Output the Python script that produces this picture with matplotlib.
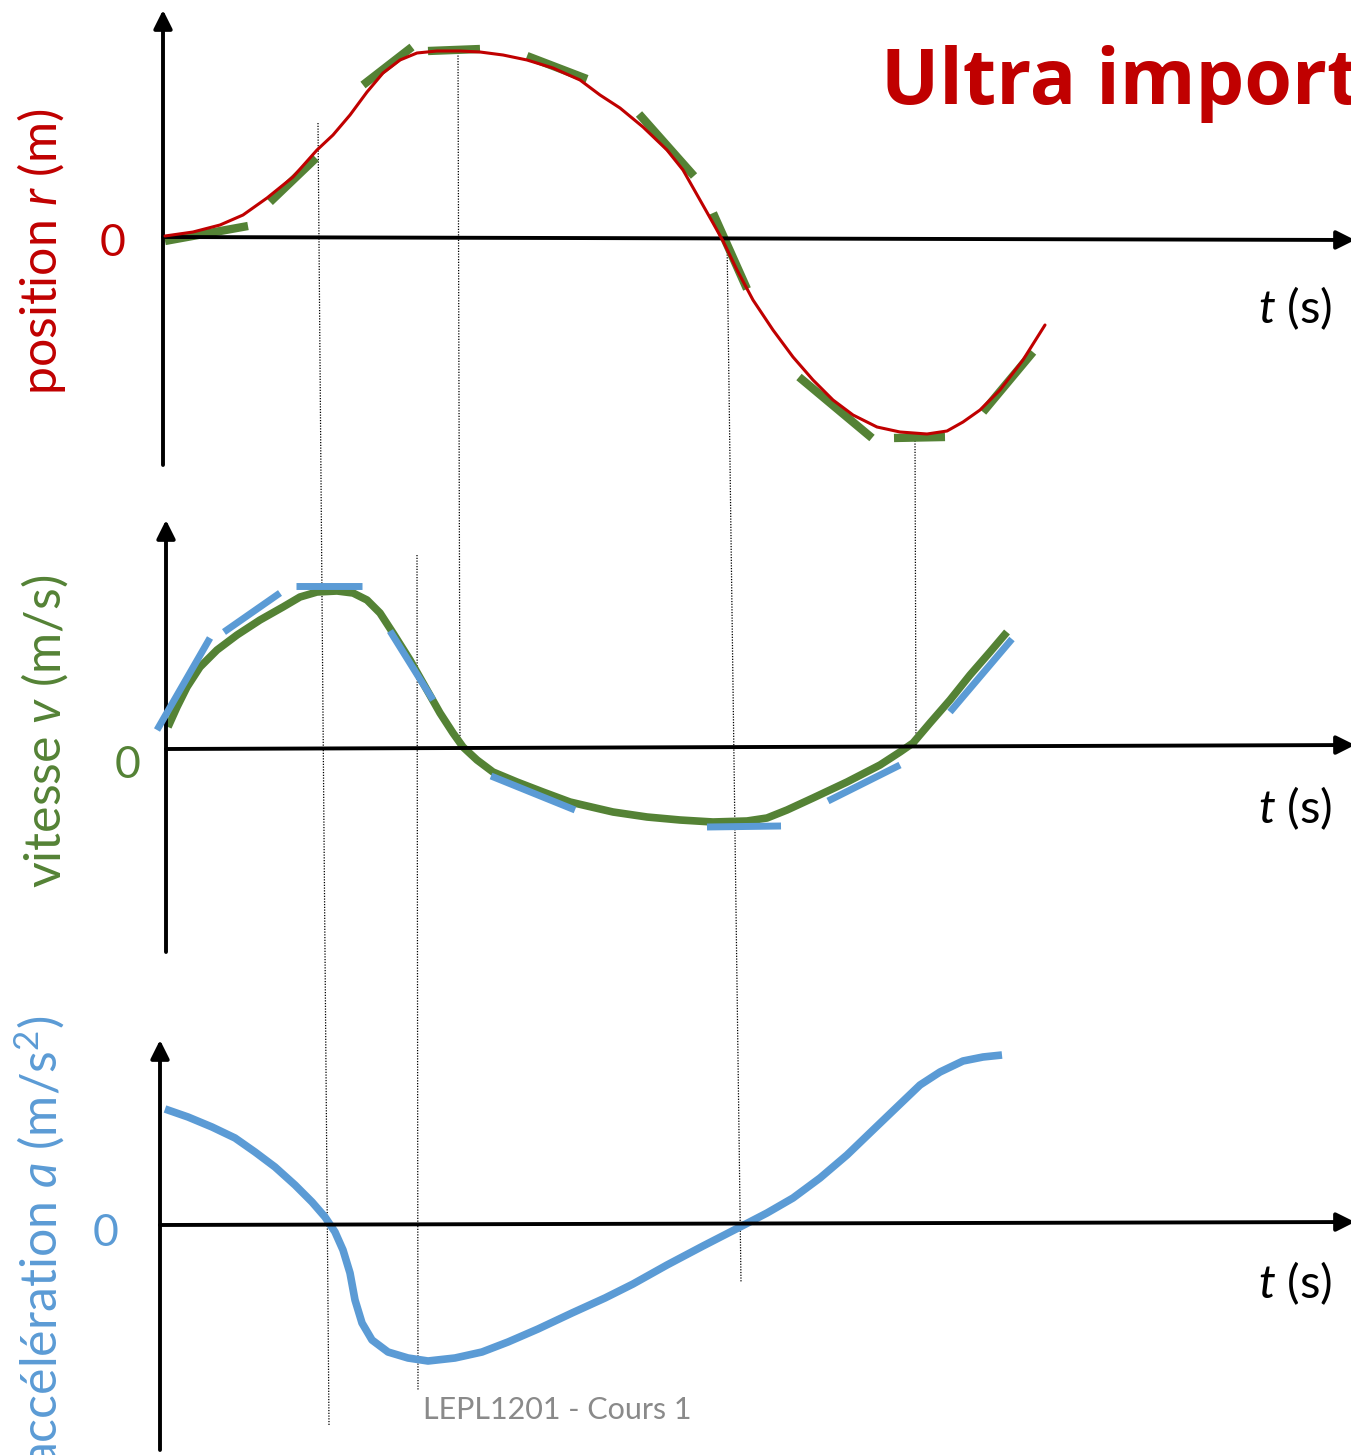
import matplotlib
matplotlib.use("Agg")
import matplotlib.pyplot as plt

W, H = 1351, 1455
plt.rcParams['mathtext.fontset'] = 'custom'
plt.rcParams['mathtext.rm'] = 'Lato'
plt.rcParams['mathtext.it'] = 'Lato:italic'
plt.rcParams['font.family'] = ['Lato', 'DejaVu Sans']

RED = '#c00000'
GREEN = '#548235'
BLUE = '#5b9bd5'

# ---------------- data ----------------
# position r(t)
pos_t = [2, 30, 57, 80, 104, 130, 154, 170, 187, 204, 220, 237, 254, 274, 297,
         317, 340, 364, 390, 417, 437, 457, 480, 504, 520, 537, 550, 560, 574,
         590, 610, 630, 650, 670, 690, 714, 737, 764, 784, 800, 817, 837, 860, 882]
pos_r = [1, 5, 12, 22, 39, 60, 87, 102, 122, 145, 164, 177, 184, 186, 186,
         185, 182, 177, 169, 157, 142, 129, 110, 87, 67, 37, 14, -4, -33,
         -63, -93, -120, -143, -163, -178, -190, -195, -197, -194, -185, -173,
         -153, -123, -88]
# tangents on r(t)  (t0, r0, t1, r1)
pos_tan = [(2, -4, 85, 11), (107, 35, 153, 79), (200, 152, 249, 190),
           (265, 186, 317, 188), (364, 181, 424, 158), (476, 123, 531, 61),
           (550, 24, 584, -52), (636, -140, 709, -201), (731, -201, 782, -200),
           (820, -175, 870, -115)]

# velocity v(t)
vel_t = [2, 11, 21, 34, 51, 71, 94, 117, 134, 151, 171, 187, 201, 214, 227,
         244, 261, 274, 287, 297, 311, 327, 351, 377, 404, 434, 447, 481, 514,
         547, 581, 601, 621, 647, 681, 714, 734, 747, 764, 784, 804, 824, 841]
vel_v = [22, 42, 62, 82, 99, 114, 129, 142, 152, 157, 158, 156, 149, 136, 116,
         89, 59, 36, 16, 2, -11, -23, -33, -43, -53, -60, -63, -68, -71,
         -73, -72, -69, -61, -49, -33, -16, -3, 6, 26, 49, 74, 97, 117]
vel_tan = [(-9, 19, 44, 111), (58, 117, 114, 156), (130, 163, 196, 163),
           (224, 118, 267, 49), (325, -27, 409, -61), (541, -78, 615, -77),
           (662, -52, 734, -16), (784, 37, 846, 110)]

# acceleration a(t)
acc_t = [5, 28, 52, 75, 95, 115, 135, 152, 165, 175, 183, 190, 195, 202, 212,
         228, 248, 268, 295, 322, 348, 378, 412, 445, 473, 507, 543, 580, 607,
         633, 660, 687, 713, 737, 760, 780, 803, 823, 842]
acc_a = [116, 108, 98, 87, 73, 58, 40, 23, 8, -7, -25, -48, -75, -98, -115,
         -127, -133, -136, -133, -127, -117, -104, -88, -73, -59, -40, -21, -2, 12,
         27, 47, 70, 95, 118, 140, 153, 164, 168, 170]

# guide lines between panels (figure pixels: x_top, y_top, x_bot, y_bot)
guides = [(318, 123, 329, 1425), (458, 50, 460, 750), (417, 555, 418, 1390),
          (727, 238, 741, 1282), (915, 438, 916, 748)]

title = "Ultra important"
ylabels = ["position $\\mathit{r}$ (m)", "vitesse $\\mathit{v}$ (m/s)",
           "accélération $\\mathit{a}$ (m/s$^2$)"]
footer = "LEPL1201 - Cours 1"

# ---------------- figure ----------------
fig = plt.figure(figsize=(W / 100, H / 100), dpi=100)
over = fig.add_axes([0, 0, 1, 1])
over.set_xlim(0, W)
over.set_ylim(H, 0)
over.axis('off')


def panel(x0, y0):
    ax = fig.add_axes([0, 0, 1, 1])
    ax.set_xlim(-x0, W - x0)
    ax.set_ylim(y0 - H, y0)
    ax.axis('off')
    ax.patch.set_alpha(0)
    return ax


def axes_arrows(ax, ybot, ytop, xend, yend):
    for xy, xyt in [((0, ytop), (0, ybot)), ((xend, yend), (0, 0))]:
        ax.annotate('', xy=xy, xytext=xyt,
                    arrowprops=dict(arrowstyle='-|>', lw=2.8, color='black',
                                    mutation_scale=28, shrinkA=0, shrinkB=0),
                    annotation_clip=False)


# guides
for xt, yt, xb, yb in guides:
    over.plot([xt, xb], [yt, yb], color='black', lw=0.9, ls=(0, (1, 1.2)))

# panel 1
ax1 = panel(163, 237)
axes_arrows(ax1, -228, 227, 1192, -3)
ax1.plot(pos_t, pos_r, color=RED, lw=2.2, solid_joinstyle='round',
         solid_capstyle='round', zorder=3)
for t0, v0, t1, v1 in pos_tan:
    ax1.plot([t0, t1], [v0, v1], color=GREEN, lw=6, solid_capstyle='butt', zorder=2)

# panel 2
ax2 = panel(166, 749)
axes_arrows(ax2, -203, 229, 1189, 4)
ax2.plot(vel_t, vel_v, color=GREEN, lw=5.5, solid_joinstyle='round',
         solid_capstyle='butt', zorder=2)
for t0, v0, t1, v1 in vel_tan:
    ax2.plot([t0, t1], [v0, v1], color=BLUE, lw=5, solid_capstyle='butt', zorder=3)

# panel 3
ax3 = panel(160, 1225)
axes_arrows(ax3, -225, 185, 1195, 3)
ax3.plot(acc_t, acc_a, color=BLUE, lw=5.5, solid_joinstyle='round',
         solid_capstyle='butt', zorder=2)

# texts
over.text(881, 104, title, color=RED, fontsize=55.5, fontweight='bold',
          family='Open Sans', ha='left', va='baseline')
for (x, y), lab, col in zip([(42, 252), (45, 731), (40, 1241)], ylabels,
                            [RED, GREEN, BLUE]):
    over.text(x, y, lab, color=col, fontsize=36, rotation=90,
              ha='center', va='center')
for (x, y), col in zip([(113, 243), (128, 765), (106, 1233)], [RED, GREEN, BLUE]):
    over.text(x, y, "0", color=col, fontsize=32, ha='center', va='center')
for y in [308, 808, 1283]:
    over.text(1295, y, "$\\mathit{t}$ (s)", color='black', fontsize=34,
              ha='center', va='center')
over.text(557, 1410, footer, color='#8a8a8a', fontsize=22, ha='center', va='center')

fig.savefig('out.png', dpi=100)
